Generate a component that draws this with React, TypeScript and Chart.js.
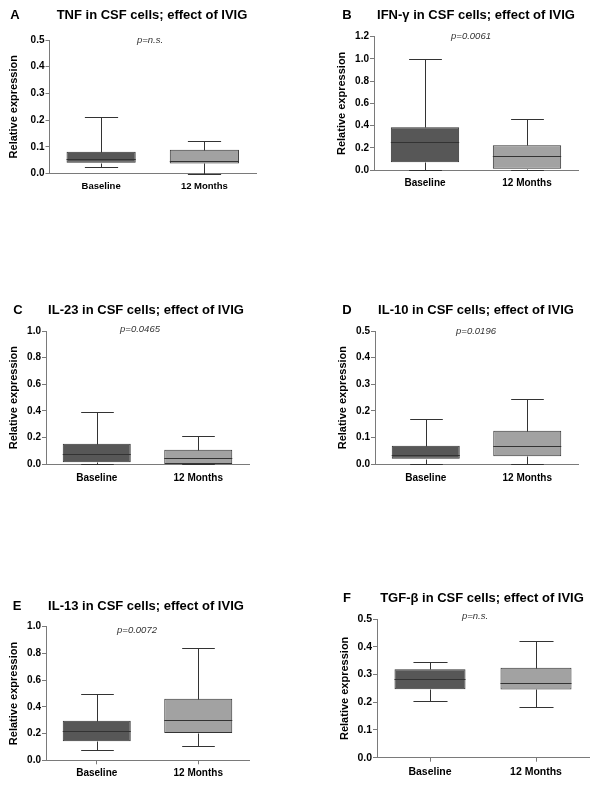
import React, { useEffect, useRef } from 'react';
import { Chart, registerables } from 'chart.js';

Chart.register(...registerables);

// ---------------- data ----------------
const categories = ['Baseline', '12 Months'];
const yAxisTitle = 'Relative expression';
// each array: [min, Q1, median, Q3, max]
const tnfBaseline = [0.0225, 0.04, 0.0525, 0.081, 0.2125];
const tnf12Months = [0.0, 0.0375, 0.045, 0.089, 0.12];
const ifnBaseline = [0.004, 0.069, 0.249, 0.384, 1.0];
const ifn12Months = [0.0, 0.012, 0.126, 0.222, 0.456];
const il23Baseline = [0.0, 0.015, 0.075, 0.155, 0.39];
const il2312Months = [0.0, 0.002, 0.0475, 0.11, 0.215];
const il10Baseline = [0.0, 0.021, 0.036, 0.07, 0.169];
const il1012Months = [0.0, 0.03, 0.07, 0.126, 0.244];
const il13Baseline = [0.078, 0.143, 0.22, 0.296, 0.5];
const il1312Months = [0.107, 0.205, 0.3, 0.46, 0.843];
const tgfBaseline = [0.2055, 0.2464, 0.2825, 0.3185, 0.345];
const tgf12Months = [0.1815, 0.246, 0.268, 0.3245, 0.422];

const panelLetters = ['A', 'B', 'C', 'D', 'E', 'F'];
const panelTitles = [
  'TNF in CSF cells; effect of IVIG',
  'IFN-γ in CSF cells; effect of IVIG',
  'IL-23 in CSF cells; effect of IVIG',
  'IL-10 in CSF cells; effect of IVIG',
  'IL-13 in CSF cells; effect of IVIG',
  'TGF-β in CSF cells; effect of IVIG',
];
const pValues = ['p=n.s.', 'p=0.0061', 'p=0.0465', 'p=0.0196', 'p=0.0072', 'p=n.s.'];
const yMaxes = [0.5, 1.2, 1.0, 0.5, 1.0, 0.5];
const ySteps = [0.1, 0.2, 0.2, 0.1, 0.2, 0.1];
const panelStats = [
  [tnfBaseline, tnf12Months],
  [ifnBaseline, ifn12Months],
  [il23Baseline, il2312Months],
  [il10Baseline, il1012Months],
  [il13Baseline, il1312Months],
  [tgfBaseline, tgf12Months],
];

// ---------------- layout (page coords) ----------------
const FONT = "'Liberation Sans', Arial, Helvetica, sans-serif";
const DARK_FILL = '#575757';
const LIGHT_FILL = '#a2a2a2';
const LINE = '#333333';
const AXIS = '#7a7a7a';

const layouts = [
  { ox: 0, oy: 0, h: 260, l: 49.5, r: 256, t: 40, b: 173.5, letterX: 15, titleX: 152, titleY: 15, pX: 150, pY: 40, yTitleX: 14, tickFont: 10, labelFont: 9.5, xTicks: false, gap: 7 },
  { ox: 300, oy: 0, h: 260, l: 374, r: 578, t: 36.7, b: 170, letterX: 347, titleX: 476, titleY: 15, pX: 471, pY: 36, yTitleX: 342, tickFont: 10, labelFont: 10, xTicks: false, gap: 7 },
  { ox: 0, oy: 260, h: 265, l: 46, r: 249, t: 331, b: 464.3, letterX: 18, titleX: 146, titleY: 310, pX: 140, pY: 329, yTitleX: 14, tickFont: 10, labelFont: 10, xTicks: false, gap: 8 },
  { ox: 300, oy: 260, h: 265, l: 375, r: 578, t: 331, b: 464.3, letterX: 347, titleX: 476, titleY: 310, pX: 476, pY: 331, yTitleX: 343, tickFont: 10, labelFont: 10, xTicks: false, gap: 8 },
  { ox: 0, oy: 525, h: 263, l: 46, r: 249, t: 626.7, b: 760.3, letterX: 17, titleX: 146, titleY: 606, pX: 137, pY: 630, yTitleX: 14, tickFont: 10, labelFont: 10, xTicks: true, gap: 7 },
  { ox: 300, oy: 525, h: 263, l: 377, r: 589, t: 619, b: 757.7, letterX: 347, titleX: 482, titleY: 598, pX: 475, pY: 616, yTitleX: 345, tickFont: 10.5, labelFont: 10.5, xTicks: true, gap: 8 },
];

const Y_W = 30;
const X_H = 22;

const boxPlugin = {
  id: 'boxWhisker',
  afterDatasetsDraw(chart: any, _args: any, opts: any) {
    const ctx = chart.ctx;
    const meta = chart.getDatasetMeta(0);
    const ys = chart.scales.y;
    const stats: number[][] = opts.stats;
    ctx.save();
    ctx.strokeStyle = LINE;
    ctx.lineWidth = 1;
    meta.data.forEach((bar: any, i: number) => {
      const [mn, q1, md, q3, mx] = stats[i];
      const x = Math.round(bar.x) + 0.5;
      const w = bar.width;
      const cap = w * 0.48;
      const py = (v: number) => Math.round(ys.getPixelForValue(v)) + 0.5;
      ctx.beginPath();
      // median
      ctx.moveTo(bar.x - w / 2, py(md));
      ctx.lineTo(bar.x + w / 2, py(md));
      // upper whisker
      ctx.moveTo(x, py(q3));
      ctx.lineTo(x, py(mx));
      ctx.moveTo(x - cap / 2, py(mx));
      ctx.lineTo(x + cap / 2, py(mx));
      // lower whisker
      ctx.moveTo(x, py(q1));
      ctx.lineTo(x, py(mn));
      ctx.moveTo(x - cap / 2, py(mn));
      ctx.lineTo(x + cap / 2, py(mn));
      ctx.stroke();
    });
    ctx.restore();
  },
};

const textPlugin = {
  id: 'panelText',
  afterDraw(chart: any, _args: any, opts: any) {
    const ctx = chart.ctx;
    const L = opts.layout;
    const ca = chart.chartArea;
    ctx.save();
    ctx.fillStyle = '#000';
    ctx.textBaseline = 'middle';
    ctx.textAlign = 'center';
    ctx.font = `bold 13px ${FONT}`;
    ctx.fillText(opts.letter, L.letterX - L.ox, L.titleY - L.oy);
    ctx.fillText(opts.title, L.titleX - L.ox, L.titleY - L.oy);
    ctx.font = `italic 9.5px ${FONT}`;
    ctx.fillStyle = '#333';
    ctx.fillText(opts.p, L.pX - L.ox, L.pY - L.oy);
    ctx.fillStyle = '#000';
    ctx.font = `bold 11px ${FONT}`;
    ctx.translate(L.yTitleX - L.ox, (ca.top + ca.bottom) / 2);
    ctx.rotate(-Math.PI / 2);
    ctx.fillText(yAxisTitle, 0, 0);
    ctx.restore();
  },
};

function BoxPanel({ index }: { index: number }) {
  const ref = useRef<HTMLCanvasElement | null>(null);
  const L = layouts[index];
  const W = 300;
  useEffect(() => {
    if (!ref.current) return;
    const stats = panelStats[index];
    const chart = new Chart(ref.current, {
      type: 'bar',
      data: {
        labels: categories,
        datasets: [
          {
            data: stats.map((s) => [s[1], s[3]]) as any,
            backgroundColor: [DARK_FILL, LIGHT_FILL],
            borderColor: LINE,
            borderWidth: 1,
            borderSkipped: false,
            barPercentage: 0.67,
            categoryPercentage: 1,
          },
        ],
      },
      options: {
        responsive: false,
        animation: false,
        devicePixelRatio: 1,
        layout: {
          padding: {
            left: L.l - L.ox - Y_W,
            right: L.ox + W - L.r,
            top: L.t - L.oy,
            bottom: L.oy + L.h - L.b - X_H,
          },
        },
        plugins: {
          legend: { display: false },
          tooltip: { enabled: false },
          title: { display: false },
          boxWhisker: { stats },
          panelText: {
            layout: L,
            letter: panelLetters[index],
            title: panelTitles[index],
            p: pValues[index],
          },
        } as any,
        scales: {
          x: {
            type: 'category',
            offset: true,
            grid: {
              display: true,
              drawOnChartArea: false,
              drawTicks: L.xTicks,
              tickLength: 4,
              color: AXIS,
              offset: false,
            },
            border: { display: true, color: AXIS, width: 1 },
            ticks: {
              color: '#000',
              padding: L.xTicks ? L.gap - 4 : L.gap,
              font: { family: FONT, size: L.labelFont, weight: 'bold' },
              maxRotation: 0,
            },
            afterFit: (s: any) => {
              s.height = X_H;
            },
          },
          y: {
            type: 'linear',
            min: 0,
            max: yMaxes[index],
            grid: {
              display: true,
              drawOnChartArea: false,
              drawTicks: true,
              tickLength: 4,
              color: AXIS,
            },
            border: { display: true, color: AXIS, width: 1 },
            ticks: {
              stepSize: ySteps[index],
              color: '#000',
              padding: 1,
              font: { family: FONT, size: L.tickFont, weight: 'bold' },
              callback: (v: any) => Number(v).toFixed(1),
            },
            afterFit: (s: any) => {
              s.width = Y_W;
            },
          },
        },
      },
      plugins: [boxPlugin, textPlugin],
    });
    return () => chart.destroy();
  }, [index]);
  return (
    <canvas
      ref={ref}
      width={W}
      height={L.h}
      style={{ position: 'absolute', left: L.ox, top: L.oy, width: W, height: L.h }}
    />
  );
}

export default function App() {
  return (
    <div
      style={{
        position: 'absolute',
        left: 0,
        top: 0,
        width: 600,
        height: 788,
        background: '#fff',
        overflow: 'hidden',
      }}
    >
      {panelTitles.map((_, i) => (
        <BoxPanel key={i} index={i} />
      ))}
    </div>
  );
}
